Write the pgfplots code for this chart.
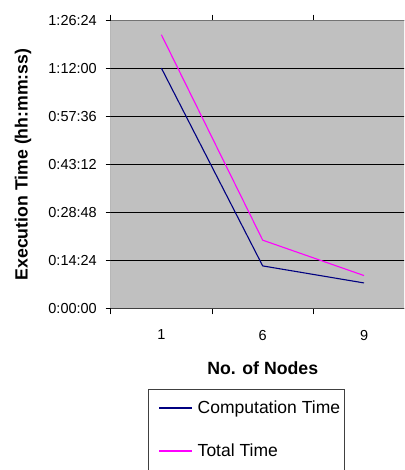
\documentclass[border=0pt]{standalone}
\usepackage{pgfplots}
\pgfplotsset{compat=1.18}
\usepackage{fontspec}
\setmainfont{Liberation Sans}
\definecolor{plotgray}{RGB}{192,192,192}
\definecolor{compblue}{RGB}{0,0,128}
\definecolor{totalmag}{RGB}{255,0,255}
\begin{document}
\begin{tikzpicture}
\useasboundingbox (0,0) rectangle (404pt,470pt);
\clip (0,0) rectangle (404pt,470pt);
\begin{scope}[overlay]
\begin{axis}[
    at={(110.7pt,161.7pt)}, anchor=south west,
    scale only axis,
    width=304pt, height=287.6pt,
    xmin=0.5, xmax=3.5,
    ymin=0, ymax=5184,
    axis line style={draw=none},
    axis background/.style={fill=plotgray},
    xtick={1,2,3},
    xticklabels={1,6,9},
    minor xtick={0.5,1.5,2.5,3.5},
    ytick={0,864,1728,2592,3456,4320,5184},
    yticklabels={0:00:00,0:14:24,0:28:48,0:43:12,0:57:36,1:12:00,1:26:24},
    tick align=outside,
    major tick length=5pt,
    minor tick length=6pt,
    major x tick style={draw=none},
    minor x tick style={black, line width=0.8pt},
    major y tick style={black, line width=0.8pt},
    ymajorgrids,
    major grid style={black, line width=0.8pt},
    tick label style={font=\fontsize{14.5}{17}\selectfont},
    yticklabel style={anchor=east, inner sep=0pt, xshift=-8.7pt},
    xticklabel style={anchor=north, inner sep=0pt, yshift=-16.5pt},
    xlabel={No. of Nodes},
    ylabel={Execution Time (hh:mm:ss)},
    label style={font=\bfseries\fontsize{17.7}{20}\selectfont},
    xlabel style={at={(axis description cs:0.5,-0.2086)}, anchor=center, inner sep=0pt},
    ylabel style={at={(axis description cs:-0.2885,0.5)}, anchor=center, rotate=0, inner sep=0pt},
    legend style={
        at={(axis description cs:0.1217,-0.279)}, anchor=north west,
        draw=black!75, line width=0.8pt, fill=white,
        font=\fontsize{17.5}{20}\selectfont,
        inner xsep=4pt, inner ysep=12pt,
        row sep=29pt,
        nodes={inner sep=0pt},
        /tikz/every odd column/.append style={column sep=5.3pt},
    },
    legend cell align=left,
    legend image code/.code={
        \path (-6.6pt,0pt);
        \draw[#1, line width=1.6pt] (0pt,0pt) -- (32.4pt,0pt);
    },
]
\addplot[draw=compblue, line width=1.1pt] coordinates {(1,4330) (2,764) (3,457)};
\addlegendentry{Computation Time}
\addplot[draw=totalmag, line width=1.1pt] coordinates {(1,4931) (2,1228) (3,590)};
\addlegendentry{Total Time}
\draw[black!55, line width=1pt] (rel axis cs:0,1) -- (rel axis cs:1,1);
\draw[black!75, line width=1pt] (rel axis cs:0,0) -- (rel axis cs:1,0);
\draw[black!80, line width=1pt] (rel axis cs:0,0) -- (rel axis cs:0,1);
\end{axis}
\end{scope}
\end{tikzpicture}
\end{document}
